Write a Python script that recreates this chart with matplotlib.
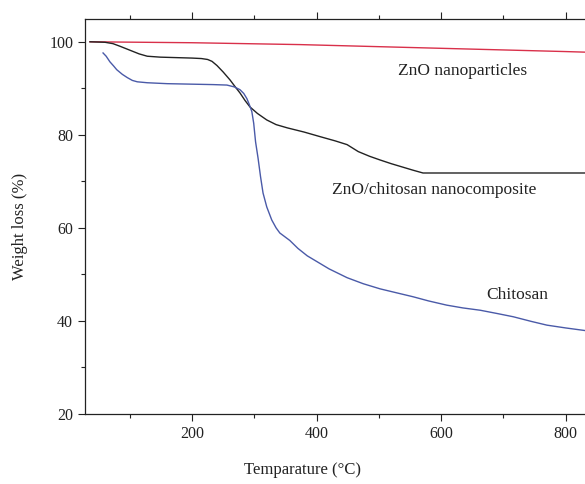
import matplotlib
matplotlib.use("Agg")
import matplotlib.pyplot as plt

# ZnO nanoparticles (red)
zno_t = [36, 200, 373, 600, 800, 850]
zno_w = [100.0, 99.8, 99.4, 98.6, 97.9, 97.7]

# ZnO/chitosan nanocomposite (black)
comp_t = [36, 60, 73, 85, 100, 115, 128, 149, 200, 215, 225, 232, 240, 250, 261,
          270, 277, 285, 293, 305, 320, 335, 353, 380, 406, 430, 449, 467, 485,
          502, 520, 540, 555, 571, 700, 850]
comp_w = [100.0, 99.9, 99.6, 99.0, 98.2, 97.4, 96.9, 96.7, 96.5, 96.4, 96.2, 95.8,
          94.9, 93.5, 91.8, 90.2, 89.0, 87.4, 86.0, 84.6, 83.2, 82.2, 81.5, 80.6,
          79.6, 78.7, 77.9, 76.4, 75.4, 74.6, 73.8, 73.0, 72.4, 71.8, 71.8, 71.8]

# Chitosan (blue)
chit_t = [57, 62, 68, 74, 79, 88, 96, 104, 112, 128, 160, 234, 256, 268, 277, 283,
          288, 292, 296, 299, 302, 306, 310, 314, 320, 328, 335, 341, 350, 357, 370,
          385, 400, 420, 449, 475, 502, 530, 555, 580, 609, 635, 663, 690, 716, 745,
          770, 800, 850]
chit_w = [97.6, 96.9, 95.7, 94.8, 94.0, 93.0, 92.3, 91.7, 91.4, 91.2, 91.0, 90.8,
          90.7, 90.3, 89.7, 88.9, 87.8, 86.5, 85.0, 82.5, 78.5, 75.0, 71.0, 67.5,
          64.5, 61.7, 60.0, 58.9, 58.0, 57.3, 55.6, 54.0, 52.8, 51.2, 49.3, 48.0,
          46.9, 46.0, 45.2, 44.3, 43.4, 42.8, 42.3, 41.6, 40.9, 39.9, 39.1, 38.5, 37.6]

xticks = [200, 400, 600, 800]
xminor = [100, 300, 500, 700]
yticks = [20, 40, 60, 80, 100]
yminor = [30, 50, 70, 90]

labels = ['ZnO nanoparticles', 'ZnO/chitosan nanocomposite', 'Chitosan']
label_x = [634, 589, 722]
label_y = [93.8, 68.2, 45.6]

plt.rcParams['font.family'] = ['Liberation Serif', 'DejaVu Serif']

W, H = 585, 484
fig = plt.figure(figsize=(W / 100, H / 100), dpi=100)
ax_w = (850 - 28) * 0.6225 / W
ax = fig.add_axes([85 / W, 70 / H, ax_w, 395 / H])

ax.plot(zno_t, zno_w, color='#d9304a', lw=1.0)
ax.plot(comp_t, comp_w, color='#222222', lw=1.0)
ax.plot(chit_t, chit_w, color='#4a5aa8', lw=1.0)

ax.set_xlim(28, 850)
ax.set_ylim(20, 104.9)
ax.set_xticks(xticks)
ax.set_xticks(xminor, minor=True)
ax.set_yticks(yticks)
ax.set_yticks(yminor, minor=True)
ax.tick_params(axis='both', which='major', direction='out', length=5, width=0.8,
               labelsize=11.5, colors='#222222')
ax.tick_params(axis='both', which='minor', direction='out', length=3, width=0.8,
               colors='#222222')
ax.tick_params(axis='x', which='both', top=True, labeltop=False)
ax.spines['right'].set_visible(False)
for s in ['left', 'bottom', 'top']:
    ax.spines[s].set_linewidth(0.9)
    ax.spines[s].set_color('#222222')

fig.text(302 / W, 1 - 470 / H, 'Temparature (°C)', fontsize=12, color='#222222',
         ha='center', va='center')
fig.text(20 / W, 1 - 226 / H, 'Weight loss (%)', fontsize=12, color='#222222',
         ha='center', va='center', rotation=90)

for lab, x, y in zip(labels, label_x, label_y):
    ax.text(x, y, lab, fontsize=12.5, color='#222222', ha='center', va='center')

fig.savefig('out.png', dpi=100)
